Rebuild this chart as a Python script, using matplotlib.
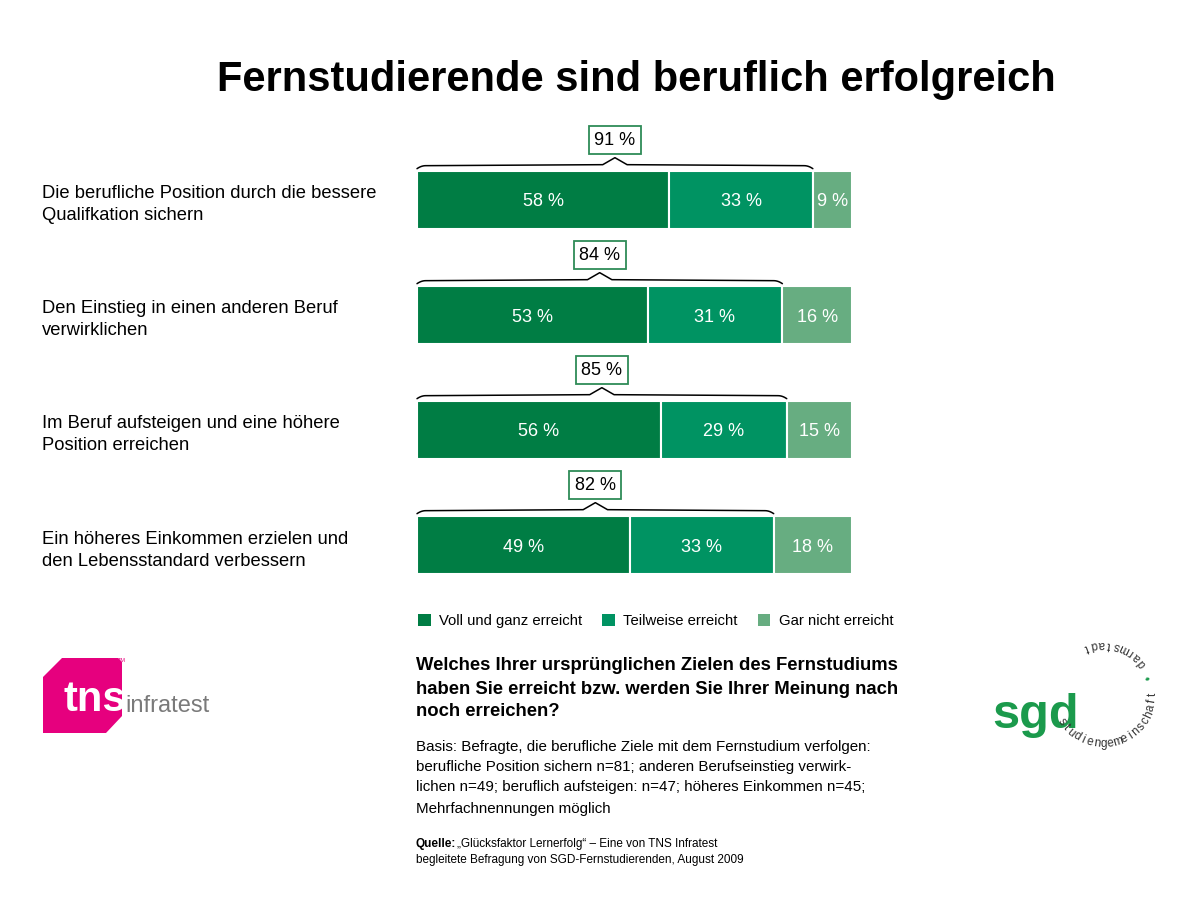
import numpy as np
import matplotlib
matplotlib.use("Agg")
from matplotlib import pyplot as plt
from matplotlib.patches import Polygon, Patch

plt.rcParams['font.family'] = ['Liberation Sans', 'DejaVu Sans']

''' Daten '''
categories = ["Die berufliche Position durch die bessere\nQualifkation sichern",
              "Den Einstieg in einen anderen Beruf\nverwirklichen",
              "Im Beruf aufsteigen und eine höhere\nPosition erreichen",
              "Ein höheres Einkommen erzielen und\nden Lebensstandard verbessern"]
voll = [58, 53, 56, 49]
teilweise = [33, 31, 29, 33]
gar_nicht = [9, 16, 15, 18]
erreicht_gesamt = [91, 84, 85, 82]
series_names = ["Voll und ganz erreicht", "Teilweise erreicht", "Gar nicht erreicht"]
colors = ['#007d44', '#009362', '#67ad81']

frage = ["Welches Ihrer ursprünglichen Zielen des Fernstudiums",
         "haben Sie erreicht bzw. werden Sie Ihrer Meinung nach",
         "noch erreichen?"]
basis = ["Basis: Befragte, die berufliche Ziele mit dem Fernstudium verfolgen:",
         "berufliche Position sichern n=81; anderen Berufseinstieg verwirk-",
         "lichen n=49; beruflich aufsteigen: n=47; höheres Einkommen n=45;",
         "Mehrfachnennungen möglich"]

W, H = 1200, 898
def fx(px):
    return px / W
def fy(py):
    return 1 - py / H

fig = plt.figure(figsize=(12, 8.98), dpi=100)

''' Titel '''
fig.text(fx(636), fy(75), "Fernstudierende sind beruflich erfolgreich",
         ha='center', va='center_baseline', fontsize=30, fontweight='bold')

''' Balken '''
ax = fig.add_axes([fx(417), fy(602.5), 435 / W, 460 / H])
ax.set_xlim(0, 100)
ax.set_ylim(3.5, -0.5)
ax.axis('off')

rows = np.arange(len(categories))
left = np.zeros(len(categories))
for vals, c in zip([voll, teilweise, gar_nicht], colors):
    ax.barh(rows, vals, left=left, height=0.51, color=c, edgecolor='white', linewidth=1.5)
    for r, v, l in zip(rows, vals, left):
        ax.text(l + v / 2, r, f"{v} %", ha='center', va='center_baseline', color='white',
                fontsize=13)
    left += np.array(vals)

# Klammer über "erreicht" + Kasten
px_y = 1 / 115.0
for r, tot in zip(rows, erreicht_gesamt):
    top = r - 0.255
    y_end = top - 2 * px_y
    y_flat = top - 5 * px_y
    y_peak = top - 13 * px_y
    mid = tot / 2
    xe = np.linspace(0, 2, 8)
    ye = y_flat + (y_end - y_flat) * (1 - xe / 2) ** 2
    xs = np.concatenate([xe, [mid - 2.8, mid, mid + 2.8], tot - xe[::-1]])
    ys = np.concatenate([ye, [y_flat - 1 * px_y, y_peak, y_flat - 1 * px_y], ye[::-1]])
    ax.plot(xs, ys, color='black', lw=1.1, clip_on=False, solid_capstyle='round')
    ax.text(mid, r - 0.52, f"{tot} %", ha='center', va='center', fontsize=13, clip_on=False,
            bbox=dict(boxstyle='square,pad=0.3', fc='white', ec='#2e8b57', lw=1.3))

''' Kategorien '''
for r, cat in zip(rows, categories):
    l1, l2 = cat.split("\n")
    fig.text(fx(42), fy(192 + r * 115), l1, ha='left', va='center_baseline', fontsize=13.2)
    fig.text(fx(42), fy(214 + r * 115), l2, ha='left', va='center_baseline', fontsize=13.2)

''' Legende '''
handles = [Patch(facecolor=c, edgecolor='none') for c in colors]
fig.legend(handles, series_names, ncol=3, loc='center left', bbox_to_anchor=(fx(405), fy(621)),
           frameon=False, fontsize=10.7, handlelength=0.85, handleheight=0.85,
           handletextpad=0.55, columnspacing=1.35)

''' Frage, Basis, Quelle '''
for k, line in enumerate(frage):
    fig.text(fx(416), fy(664 + k * 23), line, ha='left', va='center_baseline', fontsize=13.35,
             fontweight='bold')
for k, line in enumerate(basis):
    fig.text(fx(416), fy(746 + k * 20 + (1 if k == 3 else 0)), line, ha='left',
             va='center_baseline', fontsize=10.9)
fig.text(fx(416), fy(843), "Quelle:", ha='left', va='center_baseline', fontsize=8.5,
         fontweight='bold')
fig.text(fx(457), fy(843), "„Glücksfaktor Lernerfolg“ – Eine von TNS Infratest",
         ha='left', va='center_baseline', fontsize=8.5)
fig.text(fx(416), fy(859), "begleitete Befragung von SGD-Fernstudierenden, August 2009",
         ha='left', va='center_baseline', fontsize=8.5)

''' TNS Logo '''
tns_pts = [(43, 677), (62, 658), (118, 658), (122, 662), (122, 716), (106, 733), (43, 733)]
fig.patches.append(Polygon([(fx(a), fy(b)) for a, b in tns_pts], closed=True,
                           transform=fig.transFigure, fc='#e6007e', ec='none'))
fig.text(fx(63), fy(711), "tns", ha='left', va='baseline', fontsize=30, fontweight='bold',
         color='white')
fig.text(fx(125), fy(712), "infratest", ha='left', va='baseline', fontsize=17,
         color='#7a7a7a')
fig.text(fx(118), fy(661), "TM", ha='left', va='center', fontsize=4, color='#e6007e')

''' SGD Logo '''
fig.text(fx(992), fy(728), "sgd", ha='left', va='baseline', fontsize=35, fontweight='bold',
         color='#1b9a4c')
cx, cy, rad = 1103, 694, 50
def ring_text(s, a0, step, color):
    for k, ch in enumerate(s):
        th = np.deg2rad(a0 + k * step)
        fig.text(fx(cx + rad * np.cos(th)), fy(cy - rad * np.sin(th)), ch,
                 ha='center', va='center', rotation=np.rad2deg(th) + 90,
                 fontsize=8.5, color=color, rotation_mode='anchor')
ring_text("studiengemeinschaft", 214, 8.1, '#333333')
ring_text("•", 20, 0, '#1b9a4c')
ring_text("darmstadt", 38, 9.0, '#333333')

fig.savefig("out.png", dpi=100)
